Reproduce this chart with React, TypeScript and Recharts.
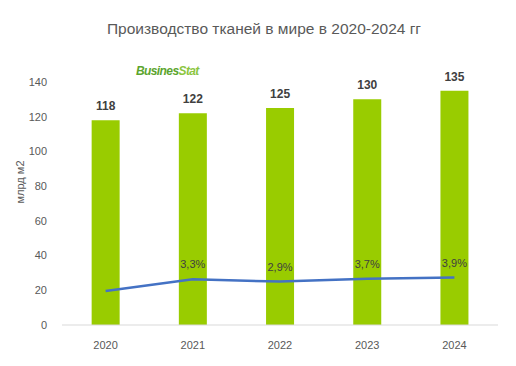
import React from 'react';
import { ComposedChart, Bar, Line, XAxis, YAxis, LabelList, Label } from 'recharts';

const years = ['2020', '2021', '2022', '2023', '2024'];
const production = [118, 122, 125, 130, 135];
const growthLine = [19.6, 26.3, 25.0, 26.7, 27.3];
const growthLabels = ['', '3,3%', '2,9%', '3,7%', '3,9%'];
const yTicks = [0, 20, 40, 60, 80, 100, 120, 140];

const data = years.map((y, i) => ({
  year: y,
  production: production[i],
  growth: growthLine[i],
  growthLabel: growthLabels[i],
}));

const FONT = '"Liberation Sans", "DejaVu Sans", sans-serif';

export default function App() {
  return (
    <div style={{ position: 'absolute', left: 0, top: 0, width: 516, height: 366, background: '#fff', fontFamily: FONT }}>
      <div style={{ position: 'absolute', left: 0, top: 20, width: 528, textAlign: 'center', fontSize: 15.5, color: '#595959' }}>
        Производство тканей в мире в 2020-2024 гг
      </div>
      <div style={{ position: 'absolute', left: 136, top: 64, fontSize: 12, fontStyle: 'italic', fontWeight: 'bold', letterSpacing: -0.6 }}>
        <span style={{ color: '#5BA52E' }}>Busines</span><span style={{ color: '#8CC63F' }}>Stat</span>
      </div>
      <ComposedChart width={516} height={366} data={data} margin={{ top: 82, right: 18, bottom: 11, left: 0 }} barCategoryGap="34%">
        <XAxis dataKey="year" tickLine={false} axisLine={{ stroke: '#D9D9D9' }} tick={{ fill: '#595959', fontSize: 11, fontFamily: FONT }} tickMargin={10} height={30} />
        <YAxis domain={[0, 140]} ticks={yTicks} axisLine={false} tickLine={false} tickSize={0} tickMargin={15} width={62} tick={{ fill: '#595959', fontSize: 11, fontFamily: FONT }}>
          <Label value="млрд м2" angle={-90} position="insideLeft" offset={20} style={{ fill: '#595959', fontSize: 11, fontFamily: FONT }} />
        </YAxis>
        <Bar dataKey="production" fill="#99CC00" isAnimationActive={false}>
          <LabelList dataKey="production" position="top" offset={10} style={{ fill: '#404040', fontSize: 12, fontWeight: 'bold', fontFamily: FONT }} />
        </Bar>
        <Line dataKey="growth" stroke="#4472C4" strokeWidth={2.5} dot={false} isAnimationActive={false}>
          <LabelList dataKey="growthLabel" position="top" offset={11} style={{ fill: '#404040', fontSize: 11, fontFamily: FONT }} />
        </Line>
      </ComposedChart>
    </div>
  );
}
